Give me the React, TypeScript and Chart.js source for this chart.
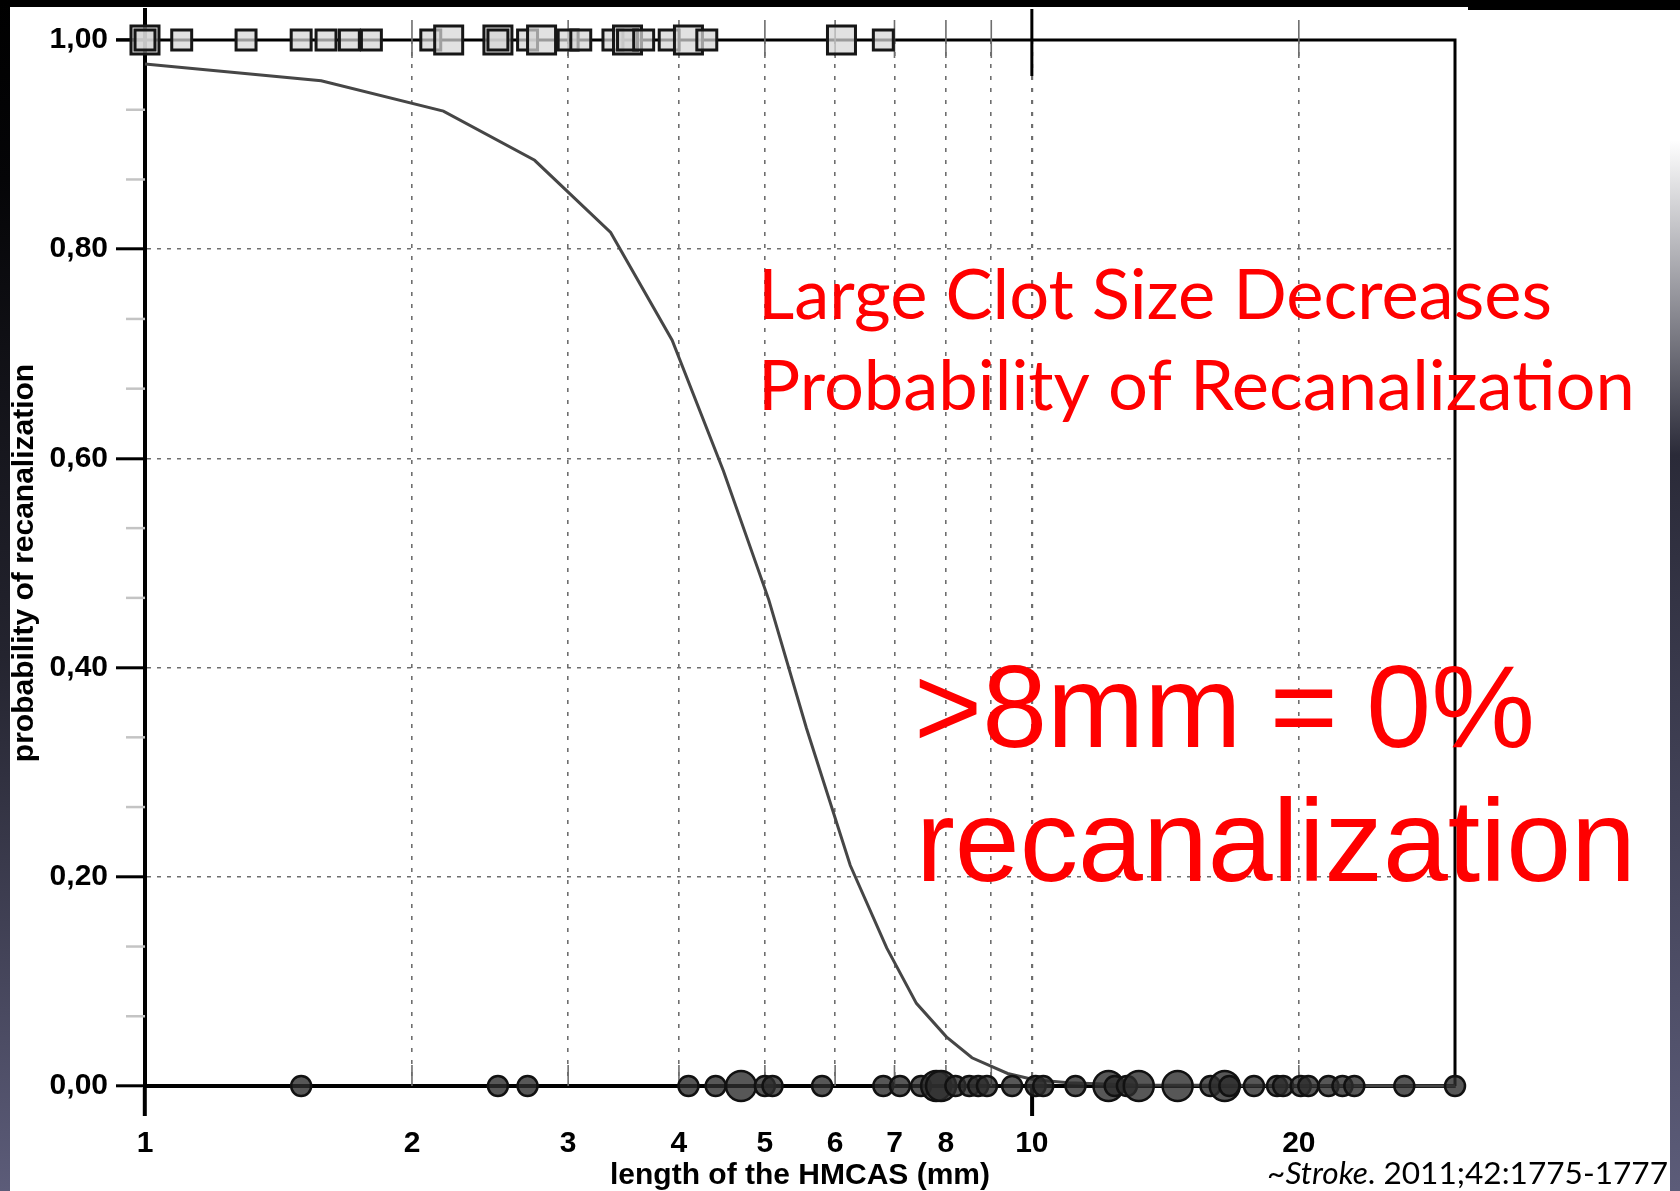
import React, { useEffect, useRef } from "react";
import { Chart, registerables } from "chart.js";

Chart.register(...registerables);

const W = 1680;
const H = 1191;

// ---- data ----
// fitted probability curve (vertices)
const curveX = [1, 1.58, 2.17, 2.75, 3.35, 3.93, 4.49, 5.05, 5.57, 6.24, 6.86, 7.41, 8.01, 8.56, 9.39, 10.06, 11, 13, 30];
const curveY = [0.977, 0.961, 0.932, 0.885, 0.816, 0.713, 0.588, 0.465, 0.342, 0.211, 0.132, 0.079, 0.047, 0.027, 0.012, 0.006, 0.003, 0.001, 0];

// recanalized patients (squares at 1.00); size 2 = large marker
const recanX = [1.0, 1.0, 1.1, 1.3, 1.5, 1.6, 1.7, 1.8, 2.1, 2.2, 2.5, 2.5, 2.7, 2.8, 3.0, 3.1, 3.37, 3.5, 3.5, 3.65, 3.9, 4.1, 4.3, 6.1, 6.8];
const recanSize = [2, 1, 1, 1, 1, 1, 1, 1, 1, 2, 2, 1, 1, 2, 1, 1, 1, 2, 1, 1, 1, 2, 1, 2, 1];

// non-recanalized patients (circles at 0.00)
const occlX = [1.5, 2.5, 2.7, 4.1, 4.4, 4.7, 5.0, 5.1, 5.8, 6.8, 7.1, 7.5, 7.8, 7.9, 8.2, 8.5, 8.7, 8.9, 9.5, 10.1, 10.3, 11.2, 12.2, 12.4, 12.8, 13.2, 14.6, 15.9, 16.5, 16.7, 17.8, 18.9, 19.2, 20.1, 20.5, 21.6, 22.4, 23.1, 26.3, 30];
const occlSize = [1, 1, 1, 1, 1, 2, 1, 1, 1, 1, 1, 1, 2, 2, 1, 1, 1, 1, 1, 1, 1, 1, 2, 1, 1, 2, 2, 1, 2, 1, 1, 1, 1, 1, 1, 1, 1, 1, 1, 1];

// axes
const xTickVals = [1, 2, 3, 4, 5, 6, 7, 8, 9, 10, 20];
const xTickLabels = ["1", "2", "3", "4", "5", "6", "7", "8", "", "10", "20"];
const yTickVals = [0, 0.2, 0.4, 0.6, 0.8, 1.0];
const yMinorPerMajor = 3;

const xTitle = "length of the HMCAS (mm)";
const yTitle = "probability of recanalization";
// \u200C keeps "t" and "i" from forming a ligature
const headline = ["Large Clot Size Decreases", "Probability of Recanaliza\u200Ction"];
const bigText = [">8mm = 0%", "recanalization"];
const citeParts = ["~", "Stroke", ". 2011;42:1775-1777"];

const SANS = '"Liberation Sans", Arial, Helvetica, sans-serif';
const HUMAN = 'Lato, "Open Sans", sans-serif';

function fitSize(ctx: CanvasRenderingContext2D, text: string, font: (s: number) => string, target: number) {
  ctx.font = font(100);
  const w = ctx.measureText(text).width;
  return (100 * target) / w;
}

const decor = {
  id: "decor",
  beforeDraw(chart: any) {
    const ctx = chart.ctx as CanvasRenderingContext2D;
    ctx.save();
    ctx.fillStyle = "#ffffff";
    ctx.fillRect(0, 0, W, H);
    ctx.fillStyle = "#000";
    ctx.fillRect(0, 0, 1468, 7);
    ctx.fillRect(1468, 0, W - 1468, 10);
    const g = ctx.createLinearGradient(0, 0, 0, H);
    g.addColorStop(0, "#000000");
    g.addColorStop(0.15, "#050507");
    g.addColorStop(0.55, "#24242f");
    g.addColorStop(1, "#5c5c79");
    ctx.fillStyle = g;
    ctx.fillRect(0, 0, 10, H);
    const g2 = ctx.createLinearGradient(0, 140, 0, H);
    g2.addColorStop(0, "rgba(40,40,55,0)");
    g2.addColorStop(0.3, "#2a2a38");
    g2.addColorStop(1, "#5c5c79");
    ctx.fillStyle = g2;
    ctx.fillRect(1670, 140, 10, H - 140);
    ctx.restore();
  },
  beforeDatasetsDraw(chart: any) {
    const ctx = chart.ctx as CanvasRenderingContext2D;
    const xs = chart.scales.x;
    const ys = chart.scales.y;
    const a = chart.chartArea;
    const top = ys.getPixelForValue(1);
    const bottom = ys.getPixelForValue(0);
    ctx.save();
    ctx.lineCap = "butt";
    // y minor ticks
    ctx.strokeStyle = "#c4c4c4";
    ctx.lineWidth = 2.5;
    for (let i = 0; i < yTickVals.length - 1; i++) {
      const v0 = yTickVals[i];
      const step = (yTickVals[i + 1] - v0) / yMinorPerMajor;
      for (let k = 1; k < yMinorPerMajor; k++) {
        const py = ys.getPixelForValue(v0 + k * step);
        ctx.beginPath();
        ctx.moveTo(a.left - 19, py);
        ctx.lineTo(a.left, py);
        ctx.stroke();
      }
    }
    // top frame line (at 1.00) and right border
    ctx.strokeStyle = "#000";
    ctx.lineWidth = 3;
    ctx.beginPath();
    ctx.moveTo(a.left - 29, top);
    ctx.lineTo(a.right + 1.5, top);
    ctx.moveTo(a.right, top);
    ctx.lineTo(a.right, bottom);
    ctx.stroke();
    // y axis extends above the frame
    ctx.lineWidth = 4;
    ctx.beginPath();
    ctx.moveTo(xs.getPixelForValue(1), 8);
    ctx.lineTo(xs.getPixelForValue(1), top);
    ctx.stroke();
    // ticks crossing the top line, and inner ticks at bottom
    xTickVals.forEach((v) => {
      if (v === 1) return;
      const px = xs.getPixelForValue(v);
      if (v === 10) {
        ctx.strokeStyle = "#000";
        ctx.lineWidth = 3;
        ctx.beginPath();
        ctx.moveTo(px, 9);
        ctx.lineTo(px, top + 36);
        ctx.stroke();
        return;
      }
      ctx.strokeStyle = "#6e6e6e";
      ctx.lineWidth = 1.6;
      ctx.beginPath();
      ctx.moveTo(px, top - 20);
      ctx.lineTo(px, top + 18);
      ctx.moveTo(px, bottom - 21);
      ctx.lineTo(px, bottom);
      ctx.stroke();
    });
    ctx.restore();
  },
  afterDraw(chart: any) {
    const ctx = chart.ctx as CanvasRenderingContext2D;
    ctx.save();
    ctx.fillStyle = "#ff0000";
    ctx.textBaseline = "alphabetic";
    ctx.textAlign = "left";
    const hf = (s: number) => `400 ${s}px ${HUMAN}`;
    const hs = fitSize(ctx, headline[1], hf, 877);
    ctx.font = hf(hs);
    ctx.fillText(headline[0], 758, 319);
    ctx.fillText(headline[1], 758, 410);
    const bf = (s: number) => `400 ${s}px ${SANS}`;
    const bs = fitSize(ctx, bigText[1], bf, 720);
    ctx.font = bf(bs);
    (ctx as any).wordSpacing = "-4px";
    ctx.fillText(bigText[0], 914, 747);
    (ctx as any).wordSpacing = "0px";
    ctx.fillText(bigText[1], 916, 881);
    // citation
    ctx.fillStyle = "#000";
    const cf = (s: number, it: boolean) => `${it ? "italic " : ""}400 ${s}px ${HUMAN}`;
    const measure = (s: number) => {
      let w = 0;
      citeParts.forEach((p, i) => {
        ctx.font = cf(s, i === 1);
        w += ctx.measureText(p).width;
      });
      return w;
    };
    const cs = (100 * 401) / measure(100);
    let cx = 1668 - measure(cs);
    citeParts.forEach((p, i) => {
      ctx.font = cf(cs, i === 1);
      ctx.fillText(p, cx, 1184);
      cx += ctx.measureText(p).width;
    });
    ctx.restore();
  },
};

export default function App() {
  const ref = useRef<HTMLCanvasElement | null>(null);
  useEffect(() => {
    const canvas = ref.current;
    if (!canvas) return;
    const chart = new Chart(canvas, {
      type: "scatter",
      data: {
        datasets: [
          {
            type: "line",
            data: curveX.map((x, i) => ({ x, y: curveY[i] })),
            borderColor: "#464646",
            borderWidth: 3,
            pointRadius: 0,
            tension: 0,
            fill: false,
            order: 3,
            clip: false,
          } as any,
          {
            type: "scatter",
            data: recanX.map((x) => ({ x, y: 1 })),
            pointStyle: "rect",
            pointRadius: recanSize.map((s) => (s === 2 ? 19.8 : 14.1)),
            pointBackgroundColor: "rgba(214,214,214,0.72)",
            pointBorderColor: "#161616",
            pointBorderWidth: 3,
            order: 1,
            clip: false,
          } as any,
          {
            type: "scatter",
            data: occlX.map((x) => ({ x, y: 0 })),
            pointStyle: "circle",
            pointRadius: occlSize.map((s) => (s === 2 ? 15 : 10)),
            pointBackgroundColor: "rgba(45,45,45,0.8)",
            pointBorderColor: "#111111",
            pointBorderWidth: 2.5,
            order: 2,
            clip: false,
          } as any,
        ],
      },
      options: {
        responsive: false,
        animation: false,
        devicePixelRatio: 1,
        events: [],
        layout: { padding: { left: 0, top: 40, right: W - 1455, bottom: 0 } },
        plugins: { legend: { display: false }, tooltip: { enabled: false } },
        scales: {
          x: {
            type: "logarithmic",
            min: 1,
            max: 30,
            afterBuildTicks: (s: any) => {
              s.ticks = xTickVals.map((v) => ({ value: v }));
            },
            afterFit: (s: any) => {
              s.height = H - 1086;
            },
            ticks: {
              autoSkip: false,
              maxRotation: 0,
              minRotation: 0,
              padding: 10,
              color: "#000",
              font: { family: SANS, size: 30, weight: "bold" },
              callback: (_v: any, i: number) => xTickLabels[i],
            },
            grid: {
              color: (c: any) => (c.tick && c.tick.value === 1 ? "rgba(0,0,0,0)" : "#6e6e6e"),
              lineWidth: (c: any) => (c.tick && c.tick.value === 10 ? 2.2 : 1.6),
              tickLength: 30,
              tickWidth: 4,
              tickColor: (c: any) => (c.tick && (c.tick.value === 1 || c.tick.value === 10) ? "#000" : "rgba(0,0,0,0)"),
            },
            border: { display: true, color: "#000", width: 4, dash: [4, 8] },
            title: {
              display: true,
              text: xTitle,
              color: "#000",
              font: { family: SANS, size: 30, weight: "bold", lineHeight: 1.0 },
              padding: { top: 0, bottom: 0 },
            },
          },
          y: {
            type: "linear",
            min: 0,
            max: 1,
            afterBuildTicks: (s: any) => {
              s.ticks = yTickVals.map((v) => ({ value: v }));
            },
            afterFit: (s: any) => {
              s.width = 145;
            },
            ticks: {
              padding: 8,
              color: "#000",
              font: { family: SANS, size: 30, weight: "bold" },
              callback: (v: any) => Number(v).toFixed(2).replace(".", ","),
            },
            grid: {
              color: (c: any) => (c.tick && (c.tick.value === 0 || c.tick.value === 1) ? "rgba(0,0,0,0)" : "#6e6e6e"),
              lineWidth: 1.6,
              tickLength: 29,
              tickWidth: 3,
              tickColor: "#000",
            },
            border: { display: true, color: "#000", width: 4, dash: [4, 6] },
            title: {
              display: true,
              text: yTitle,
              color: "#000",
              font: { family: SANS, size: 30, weight: "bold", lineHeight: 1.0 },
              padding: { top: 10, bottom: 0 },
            },
          },
        },
      } as any,
      plugins: [decor as any],
    });
    return () => chart.destroy();
  }, []);
  return (
    <canvas
      ref={ref}
      width={W}
      height={H}
      style={{ position: "fixed", left: 0, top: 0, width: W, height: H, display: "block" }}
    />
  );
}
